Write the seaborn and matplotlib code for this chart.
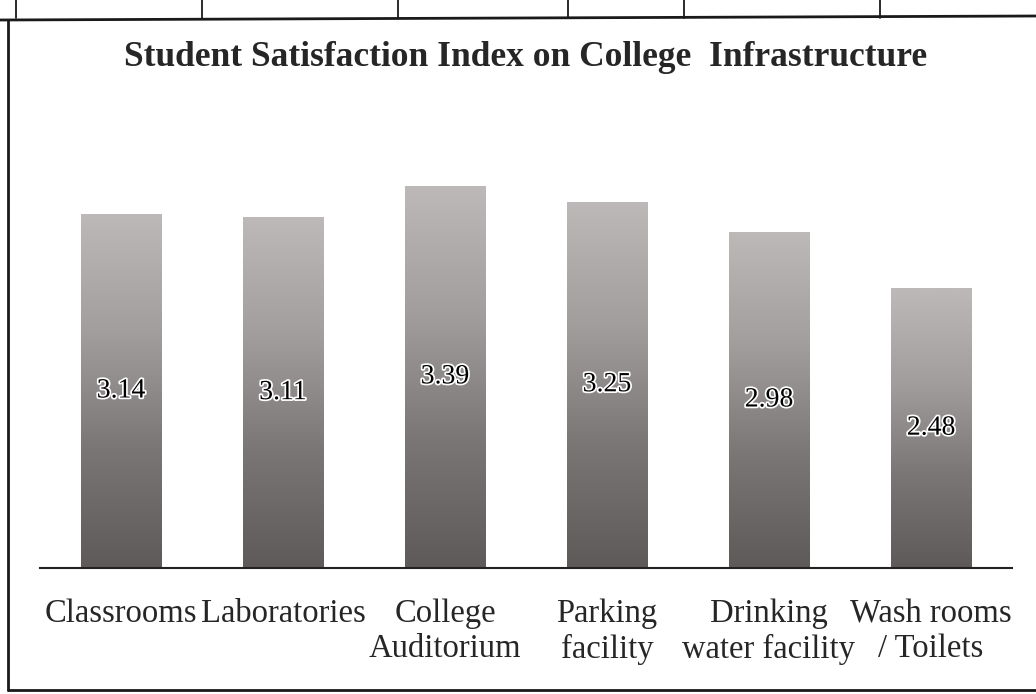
import numpy as np
import pandas as pd
import matplotlib
matplotlib.use('Agg')
import matplotlib.pyplot as plt
import matplotlib.patheffects as pe
from matplotlib.colors import LinearSegmentedColormap
from matplotlib.lines import Line2D
import seaborn as sns

# chart data
categories = ['Classrooms', 'Laboratories', 'College\nAuditorium',
              'Parking\nfacility', 'Drinking\nwater facility', 'Wash rooms\n/ Toilets']
scores = [3.14, 3.11, 3.39, 3.25, 2.98, 2.48]
title = 'Student Satisfaction Index on College  Infrastructure'

df = pd.DataFrame({'facility': categories, 'index': scores})

sns.set_style('white')
plt.rcParams['font.family'] = ['Liberation Serif', 'DejaVu Serif']

fig = plt.figure(figsize=(10.36, 6.94), dpi=100)
ax = fig.add_axes([40 / 1036, 126 / 694, 972 / 1036, 451 / 694])

sns.barplot(data=df, x='facility', y='index', color='#8c8888', width=0.5,
            saturation=1, ax=ax)

# grey scan-like gradient on each bar: light top, dark bottom
grad_cmap = LinearSegmentedColormap.from_list(
    'scan', ['#5e5a5a', '#7a7676', '#a29e9e', '#bdb9b9'])
gradient = np.linspace(0, 1, 256).reshape(-1, 1)
for bar in ax.patches:
    x0, y0 = bar.get_x(), bar.get_y()
    w, h = bar.get_width(), bar.get_height()
    im = ax.imshow(gradient, cmap=grad_cmap, aspect='auto', origin='lower',
                   extent=[x0, x0 + w, y0, y0 + h], zorder=bar.get_zorder() + 0.1)
    im.set_clip_path(bar)
    ax.text(x0 + w / 2, y0 + h / 2, f'{h:.2f}', ha='center', va='center',
            fontsize=20, color='black', zorder=5,
            path_effects=[pe.withStroke(linewidth=2.5, foreground='white')])

ax.set_xlim(-0.5, len(categories) - 0.5)
ax.set_ylim(0, 4)
ax.set_xlabel('')
ax.set_ylabel('')
ax.set_yticks([])
ax.tick_params(axis='x', length=0, pad=22, labelsize=23.5)
for lbl in ax.get_xticklabels():
    lbl.set_linespacing(1.2)
for side in ['top', 'right', 'left']:
    ax.spines[side].set_visible(False)
ax.spines['bottom'].set_color('#222222')
ax.spines['bottom'].set_linewidth(1.5)

fig.text(0.507, 1 - 58 / 694, title, ha='center', va='center',
         fontsize=25.5, fontweight='bold')

# table frame from the scanned page
lk = dict(color='#1a1a1a', linewidth=2)
fig.add_artist(Line2D([0, 1], [1 - 20 / 694, 1 - 16 / 694], transform=fig.transFigure, **lk))
fig.add_artist(Line2D([8 / 1036, 8 / 1036], [1 - 20 / 694, 4 / 694], transform=fig.transFigure, **lk))
fig.add_artist(Line2D([8 / 1036, 1], [4 / 694, 4 / 694], transform=fig.transFigure, **lk))
for xv in [16, 202, 398, 568, 684, 880]:
    fig.add_artist(Line2D([xv / 1036, xv / 1036], [1, 1 - 18 / 694],
                          transform=fig.transFigure, color='#1a1a1a', linewidth=1.3))

fig.savefig('out.png', dpi=100)
plt.close(fig)
